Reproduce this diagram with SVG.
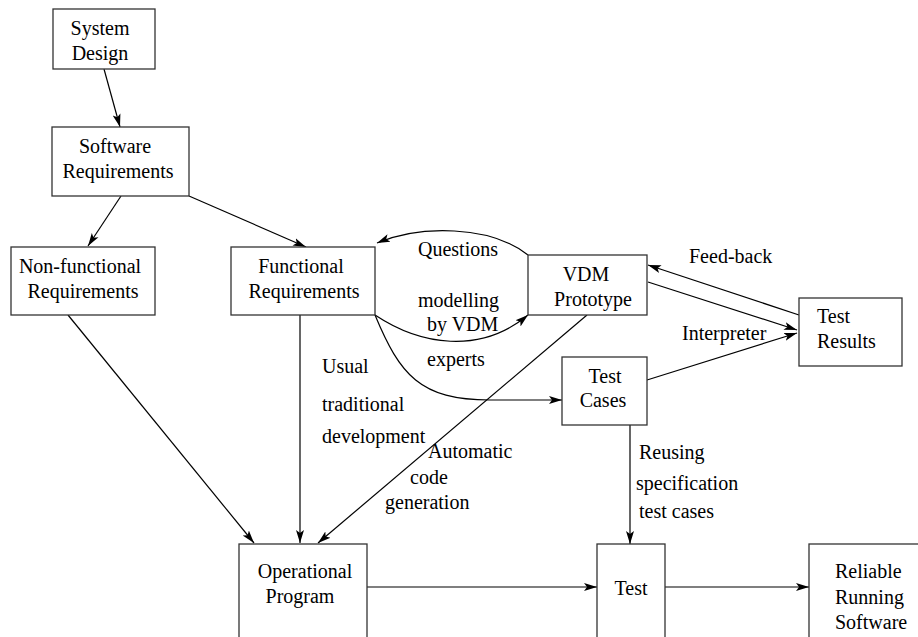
<svg xmlns="http://www.w3.org/2000/svg" width="918" height="637" viewBox="0 0 918 637">
<style>
.box{fill:#fff;stroke:#333;stroke-width:1.3}
.t{font-family:"Liberation Serif","Times New Roman",serif;font-size:20px;fill:#000}
.m{text-anchor:middle}
.c{fill:none;stroke:#000;stroke-width:1.2;marker-end:url(#ah)}
</style>
<defs>
<marker id="ah" markerUnits="userSpaceOnUse" markerWidth="14" markerHeight="10" viewBox="0 -5 14 10" refX="13" refY="0" orient="auto">
<path d="M0,-4 L13,0 L0,4 L3,0 z" fill="#000"/>
</marker>
</defs>
<rect width="918" height="637" fill="#fff"/>
<g id="connectors">
<line class="c" x1="104" y1="69" x2="120" y2="127"/>
<line class="c" x1="121" y1="196" x2="88" y2="246"/>
<line class="c" x1="189" y1="196" x2="306" y2="247"/>
<line class="c" x1="68" y1="315" x2="254" y2="543"/>
<line class="c" x1="300" y1="315" x2="300" y2="543"/>
<line class="c" x1="587" y1="315" x2="318" y2="543"/>
<path class="c" d="M528,255 C490,225 420,225 377,243"/>
<path class="c" d="M375,315 C420,345 480,355 528,315"/>
<path class="c" d="M375,315 C400,375 420,400 490,400 L562,400"/>
<line class="c" x1="799" y1="315" x2="648" y2="265"/>
<line class="c" x1="648" y1="282" x2="797" y2="330"/>
<line class="c" x1="647" y1="380" x2="797" y2="333"/>
<line class="c" x1="630" y1="425" x2="630" y2="544"/>
<line class="c" x1="367" y1="587" x2="597" y2="587"/>
<line class="c" x1="665" y1="587" x2="809" y2="587"/>
</g>
<g id="system-design">
<rect class="box" x="53" y="9" width="102" height="60"/>
<text class="t m" x="100" y="35">System</text>
<text class="t m" x="100" y="60">Design</text>
</g>
<g id="software-requirements">
<rect class="box" x="52" y="127" width="137" height="69"/>
<text class="t m" x="115" y="153">Software</text>
<text class="t m" x="118" y="178">Requirements</text>
</g>
<g id="non-functional-requirements">
<rect class="box" x="11" y="247" width="144" height="68"/>
<text class="t m" x="80" y="273">Non-functional</text>
<text class="t m" x="83" y="298">Requirements</text>
</g>
<g id="functional-requirements">
<rect class="box" x="231" y="247" width="144" height="68"/>
<text class="t m" x="301" y="273">Functional</text>
<text class="t m" x="304" y="298">Requirements</text>
</g>
<g id="vdm-prototype">
<rect class="box" x="528" y="255" width="119" height="60"/>
<text class="t m" x="586" y="281">VDM</text>
<text class="t m" x="593" y="306">Prototype</text>
</g>
<g id="test-cases">
<rect class="box" x="562" y="357" width="85" height="68"/>
<text class="t m" x="605" y="383">Test</text>
<text class="t m" x="603" y="407">Cases</text>
</g>
<g id="test-results">
<rect class="box" x="799" y="298" width="103" height="68"/>
<text class="t" x="817" y="323">Test</text>
<text class="t" x="817" y="348">Results</text>
</g>
<g id="operational-program">
<rect class="box" x="239" y="544" width="128" height="110"/>
<text class="t m" x="305" y="578">Operational</text>
<text class="t m" x="300" y="603">Program</text>
</g>
<g id="test">
<rect class="box" x="597" y="544" width="68" height="110"/>
<text class="t m" x="631" y="595">Test</text>
</g>
<g id="reliable-running-software">
<rect class="box" x="809" y="544" width="120" height="110"/>
<text class="t" x="835" y="578">Reliable</text>
<text class="t" x="835" y="604">Running</text>
<text class="t" x="835" y="629">Software</text>
</g>
<g id="labels">
<text class="t" x="322" y="373">Usual</text>
<text class="t" x="322" y="411">traditional</text>
<text class="t" x="322" y="443">development</text>
<text class="t" x="418" y="256">Questions</text>
<text class="t" x="418" y="307">modelling</text>
<text class="t" x="427" y="331">by VDM</text>
<text class="t" x="427" y="366">experts</text>
<text class="t" x="689" y="263">Feed-back</text>
<text class="t" x="682" y="340">Interpreter</text>
<text class="t" x="428" y="458">Automatic</text>
<text class="t" x="410" y="484">code</text>
<text class="t" x="385" y="509">generation</text>
<text class="t" x="639" y="459">Reusing</text>
<text class="t" x="636" y="490">specification</text>
<text class="t" x="639" y="518">test cases</text>
</g>
</svg>
